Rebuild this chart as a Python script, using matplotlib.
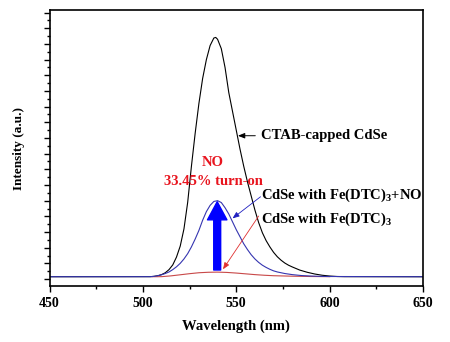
import matplotlib
matplotlib.use("Agg")
import matplotlib.pyplot as plt
from matplotlib.ticker import MultipleLocator

plt.rcParams['font.family'] = ['Liberation Serif', 'DejaVu Serif']
plt.rcParams['font.weight'] = 'bold'
plt.rcParams['mathtext.fontset'] = 'custom'
plt.rcParams['mathtext.rm'] = 'Liberation Serif:bold'
plt.rcParams['mathtext.it'] = 'Liberation Serif:bold'
plt.rcParams['mathtext.bf'] = 'Liberation Serif:bold'

# CTAB-capped CdSe
wl_black = [450, 504, 506, 508, 510, 512, 514, 516, 518, 520, 522, 524, 526, 528, 530,
            532, 534, 536, 538, 539, 540, 542, 544, 546, 548, 550, 552, 554, 556, 558,
            560, 562, 564, 566, 568, 570, 572, 574, 576, 578, 580, 584, 588, 592, 596,
            600, 604, 608, 650]
int_black = [0.146, 0.15, 0.17, 0.21, 0.28, 0.40, 0.60, 0.90, 1.40, 2.10, 3.20, 4.90, 7.20,
             9.30, 11.20, 12.80, 14.00, 14.90, 15.38, 15.42, 15.30, 14.70, 13.50, 11.90,
             10.70, 9.50, 8.30, 7.20, 6.20, 5.30, 4.40, 3.60, 2.95, 2.45, 2.05, 1.70, 1.42,
             1.20, 1.02, 0.88, 0.77, 0.57, 0.43, 0.32, 0.24, 0.19, 0.16, 0.15, 0.146]

# CdSe with Fe(DTC)3 + NO
wl_blue = [450, 504, 506, 508, 510, 512, 514, 516, 518, 520, 522, 524, 526, 528, 530, 532,
           534, 536, 538, 540, 542, 544, 546, 548, 550, 552, 554, 556, 558, 560, 562, 564,
           566, 568, 570, 572, 576, 580, 585, 590, 595, 600, 650]
int_blue = [0.146, 0.15, 0.17, 0.21, 0.27, 0.35, 0.45, 0.60, 0.78, 1.00, 1.28, 1.62, 2.05,
            2.55, 3.10, 3.75, 4.30, 4.70, 4.95, 5.00, 4.88, 4.55, 4.15, 3.65, 3.15, 2.70,
            2.25, 1.88, 1.55, 1.28, 1.06, 0.88, 0.74, 0.62, 0.52, 0.45, 0.35, 0.28, 0.22,
            0.19, 0.17, 0.16, 0.146]

# CdSe with Fe(DTC)3
wl_red = [505, 510, 515, 520, 525, 530, 535, 540, 545, 550, 555, 560, 565, 570, 580, 590, 600]
int_red = [0.146, 0.15, 0.20, 0.27, 0.34, 0.40, 0.43, 0.44, 0.42, 0.38, 0.33, 0.28, 0.24,
           0.21, 0.18, 0.16, 0.15]

fig = plt.figure(figsize=(4.5, 3.42), dpi=100)
ax = fig.add_axes([0.110, 0.1637, 0.830, 0.8071])

ax.plot(wl_black, int_black, color='black', lw=0.8)
ax.plot(wl_red, int_red, color='#c84848', lw=0.8)
ax.plot(wl_blue, int_blue, color='#3535b0', lw=0.8)

ax.set_xlim(450, 650)
ax.set_ylim(-0.447, 17.17)
ax.xaxis.set_major_locator(MultipleLocator(50))
ax.xaxis.set_minor_locator(MultipleLocator(25))
ax.yaxis.set_major_locator(MultipleLocator(1))
ax.yaxis.set_minor_locator(MultipleLocator(0.5))
ax.tick_params(axis='both', which='major', direction='out', length=4.5, width=1, labelsize=10)
ax.tick_params(axis='both', which='minor', direction='out', length=2.2, width=1)
ax.tick_params(axis='y', which='both', labelleft=False)
for s in ax.spines.values():
    s.set_linewidth(1.2)

ax.set_xlabel('Wavelength (nm)', fontsize=10.5, fontweight='bold', labelpad=7)
ax.set_ylabel('Intensity (a.u.)', fontsize=9.5, fontweight='bold', labelpad=13)

# texts
ax.text(563.4, 9.145, 'CTAB-capped CdSe', fontsize=10.5, ha='left', va='center')
ax.text(563.4, 5.36, 'CdSe with Fe(DTC)$_\\mathregular{3}$+NO', fontsize=10.5, ha='left', va='center')
ax.text(563.4, 3.80, 'CdSe with Fe(DTC)$_\\mathregular{3}$', fontsize=10.5, ha='left', va='center')
ax.text(537.5, 7.42, 'NO', fontsize=10.5, color='#e8141e', ha='center', va='center')
ax.text(537.7, 6.25, '33.45% turn-on', fontsize=10.5, color='#e8141e', ha='center', va='center')

# small arrows
ax.annotate('', xy=(550.9, 9.145), xytext=(560.2, 9.145),
            arrowprops=dict(arrowstyle='-|>,head_length=0.5,head_width=0.2', color='black',
                            lw=0.7, shrinkA=0, shrinkB=0, mutation_scale=8))
ax.annotate('', xy=(548.0, 3.87), xytext=(563.0, 5.25),
            arrowprops=dict(arrowstyle='-|>,head_length=0.5,head_width=0.2', color='#2020c0',
                            lw=0.6, shrinkA=0, shrinkB=0, mutation_scale=8))
ax.annotate('', xy=(542.9, 0.62), xytext=(562.0, 4.02),
            arrowprops=dict(arrowstyle='-|>,head_length=0.5,head_width=0.2', color='#e03030',
                            lw=0.6, shrinkA=0, shrinkB=0, mutation_scale=8))

# big blue arrow
ax.annotate('', xy=(539.8, 4.93), xytext=(539.8, 0.574),
            arrowprops=dict(arrowstyle='simple,head_length=13,head_width=14,tail_width=5',
                            color='#0000ff', shrinkA=0, shrinkB=0, mutation_scale=1))

fig.savefig('out.png', dpi=100)
